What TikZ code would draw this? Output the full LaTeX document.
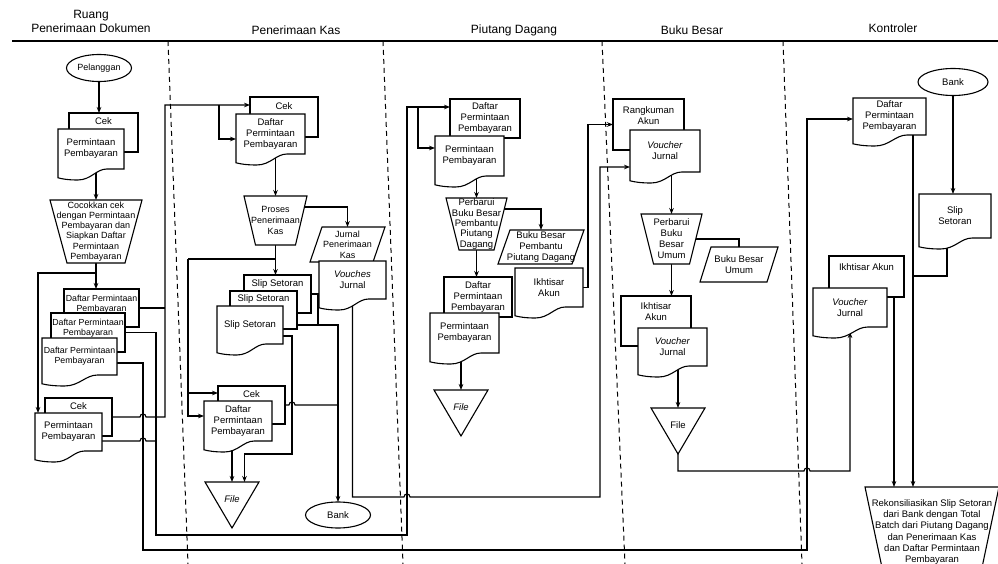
\documentclass[tikz,border=0pt]{standalone}
\usepackage{fontspec}
\setmainfont{Liberation Sans}
\usetikzlibrary{arrows.meta,shapes.geometric}
\pgfdeclarelayer{bg}
\pgfsetlayers{bg,main}

\makeatletter
\newdimen\shpL \newdimen\shpR \newdimen\shpT \newdimen\shpB \newdimen\shpW \newdimen\shpD
\def\shp@corners{%
  \southwest \global\shpL=\pgf@x \global\shpB=\pgf@y
  \northeast \global\shpR=\pgf@x \global\shpT=\pgf@y
  \global\shpW=\shpR \global\advance\shpW by -\shpL
}
\def\shp@rectanchors{%
  \inheritsavedanchors[from=rectangle]%
  \inheritanchorborder[from=rectangle]%
  \inheritanchor[from=rectangle]{center}%
  \inheritanchor[from=rectangle]{north}%
  \inheritanchor[from=rectangle]{south}%
  \inheritanchor[from=rectangle]{east}%
  \inheritanchor[from=rectangle]{west}%
  \inheritanchor[from=rectangle]{north east}%
  \inheritanchor[from=rectangle]{north west}%
  \inheritanchor[from=rectangle]{south east}%
  \inheritanchor[from=rectangle]{south west}%
}
\pgfkeys{/pgf/doc wave/.initial=11pt,
         /pgf/manop inset/.initial=12pt,
         /pgf/ledger slant/.initial=12pt,
         /pgf/tri drop/.initial=12pt}
% document symbol: the wavy lower edge hangs below the node box
\pgfdeclareshape{docwave}{%
  \shp@rectanchors
  \backgroundpath{%
    \shp@corners
    \pgfmathsetlength\shpD{\pgfkeysvalueof{/pgf/doc wave}}%
    \pgfpathmoveto{\pgfqpoint{\shpL}{\shpT}}%
    \pgfpathlineto{\pgfqpoint{\shpR}{\shpT}}%
    \pgfpathlineto{\pgfqpoint{\shpR}{\shpB}}%
    \pgfpathlineto{\pgfpoint{\shpL+0.74*\shpW}{\shpB}}%
    \pgfpathcurveto{\pgfpoint{\shpL+0.58*\shpW}{\shpB}}%
                   {\pgfpoint{\shpL+0.5*\shpW}{\shpB-\shpD}}%
                   {\pgfpoint{\shpL+0.3*\shpW}{\shpB-\shpD}}%
    \pgfpathcurveto{\pgfpoint{\shpL+0.15*\shpW}{\shpB-\shpD}}%
                   {\pgfpoint{\shpL+0.06*\shpW}{\shpB-0.9*\shpD}}%
                   {\pgfpoint{\shpL}{\shpB-0.8*\shpD}}%
    \pgfpathclose
  }%
}
% manual operation: trapezium, wide side on top
\pgfdeclareshape{manualop}{%
  \shp@rectanchors
  \backgroundpath{%
    \shp@corners
    \pgfmathsetlength\shpD{\pgfkeysvalueof{/pgf/manop inset}}%
    \pgfpathmoveto{\pgfqpoint{\shpL}{\shpT}}%
    \pgfpathlineto{\pgfqpoint{\shpR}{\shpT}}%
    \pgfpathlineto{\pgfpoint{\shpR-\shpD}{\shpB}}%
    \pgfpathlineto{\pgfpoint{\shpL+\shpD}{\shpB}}%
    \pgfpathclose
  }%
}
% ledger / journal: parallelogram
\pgfdeclareshape{ledger}{%
  \shp@rectanchors
  \backgroundpath{%
    \shp@corners
    \pgfmathsetlength\shpD{\pgfkeysvalueof{/pgf/ledger slant}}%
    \pgfpathmoveto{\pgfpoint{\shpL+\shpD}{\shpT}}%
    \pgfpathlineto{\pgfqpoint{\shpR}{\shpT}}%
    \pgfpathlineto{\pgfpoint{\shpR-\shpD}{\shpB}}%
    \pgfpathlineto{\pgfqpoint{\shpL}{\shpB}}%
    \pgfpathclose
  }%
}
% offline file: downward triangle, apex below the node box
\pgfdeclareshape{filetri}{%
  \shp@rectanchors
  \backgroundpath{%
    \shp@corners
    \pgfmathsetlength\shpD{\pgfkeysvalueof{/pgf/tri drop}}%
    \pgfpathmoveto{\pgfqpoint{\shpL}{\shpT}}%
    \pgfpathlineto{\pgfqpoint{\shpR}{\shpT}}%
    \pgfpathlineto{\pgfpoint{\shpL+0.5*\shpW}{\shpB-\shpD}}%
    \pgfpathclose
  }%
}
\makeatother

\tikzset{
  base/.style={draw, line width=1.1pt, fill=white, inner sep=0.5pt, outer sep=0pt,
               align=center, font=\fontsize{9.5}{11}\selectfont},
  boxn/.style={base, shape=rectangle, anchor=north west},
  docn/.style={base, shape=docwave, anchor=north west},
  procn/.style={base, shape=manualop, anchor=north west},
  ledgern/.style={base, shape=ledger, anchor=north west},
  filen/.style={base, shape=filetri, anchor=north west, minimum width=54pt, minimum height=34pt},
  termn/.style={base, shape=ellipse, inner sep=0pt},
  lbl/.style={inner sep=0pt, align=center, font=\fontsize{9.5}{11}\selectfont},
  lblsm/.style={inner sep=0pt, align=center, font=\fontsize{8.8}{10}\selectfont},
  toptext/.style 2 args={label={[lbl, anchor=north, yshift=#1]north:{#2}}},
  toptextsm/.style 2 args={label={[lblsm, anchor=north, yshift=#1]north:{#2}}},
  conn/.style={line width=1.1pt},
  arr/.style={conn, -{Stealth[length=6pt,width=4.6pt]}},
  lane/.style={line width=1pt, dash pattern=on 5pt off 4pt},
  head/.style={align=center, font=\fontsize{12}{14}\selectfont},
}

\begin{document}
\begin{tikzpicture}[x=1pt,y=-1pt]
\useasboundingbox (0,0) rectangle (998,564);
\clip (0,0) rectangle (998,564);

% ---------- lane headings ----------
\node[head] (hd1) at (91,21) {Ruang\\Penerimaan Dokumen};
\node[head] (hd2) at (296,30) {Penerimaan Kas};
\node[head] (hd3) at (514,30) {Piutang Dagang};
\node[head] (hd4) at (692,30) {Buku Besar};
\node[head] (hd5) at (893,28) {Kontroler};
\draw[line width=1.6pt] (12,41) -- (998,41);

% ---------- Ruang Penerimaan Dokumen ----------
\node[termn, minimum width=65pt, minimum height=27pt, font=\fontsize{9}{11}\selectfont] (pel) at (99,68) {Pelanggan};
\node[boxn, minimum width=69pt, minimum height=39pt, toptext={-4.4pt}{Cek}] (cek1) at (69,113) {};
\node[docn, minimum width=66pt, minimum height=40pt] (pp1) at (58,129) {Permintaan\\Pembayaran};
\node[procn, minimum width=92pt, minimum height=63pt, manop inset=17pt, font=\fontsize{9}{10.2}\selectfont] (t1) at (50,200)
  {Cocokkan cek\\dengan Permintaan\\Pembayaran dan\\Siapkan Daftar\\Permintaan\\Pembayaran};
\node[boxn, minimum width=75pt, minimum height=38pt, toptextsm={-5.8pt}{Daftar Permintaan\\Pembayaran}] (dpp1a) at (64,289) {};
\node[boxn, minimum width=74pt, minimum height=39pt, toptextsm={-5.8pt}{Daftar Permintaan\\Pembayaran}] (dpp1b) at (51,313) {};
\node[docn, minimum width=75pt, minimum height=37pt, font=\fontsize{8.8}{10}\selectfont] (dpp1c) at (42,338) {Daftar Permintaan\\Pembayaran};
\node[boxn, minimum width=67pt, minimum height=38pt, toptext={-4.4pt}{Cek}] (cek1b) at (45,398) {};
\node[docn, minimum width=67pt, minimum height=38pt] (pp1b) at (35,413) {Permintaan\\Pembayaran};

% ---------- Penerimaan Kas ----------
\node[boxn, minimum width=68pt, minimum height=40pt, toptext={-5.4pt}{Cek}] (cek2) at (250,97) {};
\node[docn, minimum width=69pt, minimum height=40pt] (dpp2) at (236,114) {Daftar\\Permintaan\\Pembayaran};
\node[procn, minimum width=63pt, minimum height=49pt, manop inset=11.5pt, font=\fontsize{9}{11}\selectfont] (t2) at (244,196) {Proses\\Penerimaan\\Kas};
\node[ledgern, minimum width=75pt, minimum height=35pt, ledger slant=12pt, font=\fontsize{9}{10.6}\selectfont] (p2) at (310,227) {Jurnal\\Penerimaan\\Kas};
\node[docn, minimum width=67pt, minimum height=38pt] (vch2) at (319,261) {\textit{Vouches}\\Jurnal};
\node[boxn, minimum width=67pt, minimum height=38pt, toptext={-4.4pt}{Slip Setoran}] (ss1) at (244,275) {};
\node[boxn, minimum width=67pt, minimum height=38pt, toptext={-3.4pt}{Slip Setoran}] (ss2) at (230,291) {};
\node[docn, minimum width=66pt, minimum height=38pt] (ss3) at (217,306) {Slip Setoran};
\node[boxn, minimum width=67pt, minimum height=38pt, toptext={-4.4pt}{Cek}] (cek2b) at (218,386) {};
\node[docn, minimum width=68pt, minimum height=40pt] (dpp2b) at (204,401) {Daftar\\Permintaan\\Pembayaran};
\node[filen, font=\fontsize{9.5}{11}\selectfont\itshape] (file2) at (205,482) {File};
\node[termn, minimum width=65pt, minimum height=26pt] (bank2) at (338,515) {Bank};

% ---------- Piutang Dagang ----------
\node[boxn, minimum width=70pt, minimum height=39pt] (dpp3) at (450,99) {Daftar\\Permintaan\\Pembayaran};
\node[docn, minimum width=69pt, minimum height=40pt] (pp3) at (435,136) {Permintaan\\Pembayaran};
\node[procn, minimum width=61pt, minimum height=52pt, manop inset=13pt, font=\fontsize{9.5}{10.4}\selectfont] (t3) at (446,198)
  {Perbarui\\Buku Besar\\Pembantu\\Piutang\\Dagang};
\node[ledgern, minimum width=86pt, minimum height=34pt, ledger slant=12pt, font=\fontsize{9.5}{10.6}\selectfont] (p3) at (498,230)
  {Buku Besar\\Pembantu\\Piutang Dagang};
\node[docn, minimum width=68pt, minimum height=39pt] (ikh3) at (515,268) {Ikhtisar\\Akun};
\node[boxn, minimum width=68pt, minimum height=40pt] (dpp3b) at (444,277) {Daftar\\Permintaan\\Pembayaran};
\node[docn, minimum width=69pt, minimum height=40pt] (pp3b) at (430,313) {Permintaan\\Pembayaran};
\node[filen, font=\fontsize{9.5}{11}\selectfont\itshape] (file3) at (434,390) {File};

% ---------- Buku Besar ----------
\node[boxn, minimum width=71pt, minimum height=51pt, toptext={-7.4pt}{Rangkuman\\Akun}] (rgk4) at (613,99) {};
\node[docn, minimum width=70pt, minimum height=42pt] (vch4) at (630,130) {\textit{Voucher}\\Jurnal};
\node[procn, minimum width=61pt, minimum height=50pt, manop inset=12.5pt] (t4) at (641,214) {Perbarui\\Buku\\Besar\\Umum};
\node[ledgern, minimum width=78pt, minimum height=35pt, ledger slant=11pt] (p4) at (700,247) {Buku Besar\\Umum};
\node[boxn, minimum width=70pt, minimum height=50pt, toptext={-6.4pt}{Ikhtisar\\Akun}] (ikh4) at (621,296) {};
\node[docn, minimum width=69pt, minimum height=38pt] (vch4b) at (638,328) {\textit{Voucher}\\Jurnal};
\node[filen] (file4) at (651,408) {File};

% ---------- Kontroler ----------
\node[termn, minimum width=70pt, minimum height=27pt] (bank5) at (953,82) {Bank};
\node[docn, minimum width=73pt, minimum height=37pt] (dpp5) at (853,98) {Daftar\\Permintaan\\Pembayaran};
\node[docn, minimum width=72pt, minimum height=44pt] (slip5) at (919,194) {Slip\\Setoran};
\node[boxn, minimum width=75pt, minimum height=41pt, toptext={-7.4pt}{Ikhtisar Akun}] (ikh5) at (829,256) {};
\node[docn, minimum width=74pt, minimum height=39pt] (vch5) at (813,288) {\textit{Voucher}\\Jurnal};
\node[procn, minimum width=134pt, minimum height=90pt, manop inset=19pt, font=\fontsize{9.5}{11.3}\selectfont] (t5) at (865,487)
  {Rekonsiliasikan Slip Setoran\\dari Bank dengan Total\\Batch dari Piutang Dagang\\dan Penerimaan Kas\\dan Daftar Permintaan\\Pembayaran};

\begin{pgfonlayer}{bg}
% swimlane separators
\draw[lane] (168,41) -- (188,564);
\draw[lane] (383,41) -- (403,564);
\draw[lane] (602,41) -- (625,564);
\draw[lane] (783,41) -- (802,564);

% document room
\draw[arr] (pel.south) -- (pel.south |- cek1.north);
\draw[arr] (pp1.south -| t1.north) -- (t1.north);
\coordinate (j1) at ([yshift=-10pt]t1.south);
\draw[arr] (t1.south) -- (t1.south |- dpp1a.north);
\draw[arr] (j1) -| ([xshift=3pt]pp1b.north west);

% cheques and list to cash receipts
\coordinate (v1) at (165,105);
\coordinate (v1b) at (219,105);
\draw[conn] (dpp1a.east) -- (dpp1a.east -| v1);
\draw[arr] (cek1b.east) -- (140,417) .. controls (140,413) and (146,413) .. (146,417)
  -- (cek1b.east -| v1) -- (v1) -- (v1 -| cek2.west);
\draw[arr] (v1b) |- ([yshift=-5pt]dpp2.west);

% list and remittance advice to accounts receivable
\coordinate (v2a) at (156,535);
\coordinate (v2b) at (407,535);
\coordinate (v2c) at (407,107);
\coordinate (v2d) at (418,107);
\draw[arr] (dpp1b.east) -| (v2a) -- (v2b) -- (v2c) -- (v2c -| dpp3.west);
\draw[conn] ([yshift=-9pt]pp1b.east) -- (140,441) .. controls (140,437) and (146,437) .. (146,441) -- (v2a |- 0,441);
\draw[arr] (v2d) |- ([yshift=8pt]pp3.west);

% list to controller
\coordinate (v3a) at (143,550);
\coordinate (v3b) at (807,550);
\draw[arr] ([yshift=-6.5pt]dpp1c.east) -| (v3a) -- (v3b) |- ([yshift=-2.5pt]dpp5.west);

% cash receipts
\draw[arr] (dpp2.south -| t2.north) -- (t2.north);
\draw[arr] ([yshift=13.5pt]t2.center) -| (p2.north);
\draw[arr] (t2.south) -- (t2.south |- ss1.north);
\coordinate (j2) at ([yshift=-14pt]t2.south);
\coordinate (l2) at (188,259);
\draw[conn] (j2) -- (l2);
\draw[arr] (l2) |- ([yshift=12pt]cek2b.west);
\draw[arr] (l2) |- ([yshift=5pt]dpp2b.west);
\coordinate (s1) at (318,325);
\draw[conn] (ss1.east) -| (s1);
\draw[arr] ([yshift=-15pt]ss2.east) -| (bank2.north);
\draw[conn] (cek2b.east) -- (289,405) .. controls (289,401) and (295,401) .. (295,405) -- (cek2b.east -| bank2.north);
\coordinate (s3) at (292,454);
\draw[arr] ([yshift=-11pt]ss3.east) -| (s3) -| ([xshift=12.5pt]file2.north);
\draw[arr] (file2.north |- dpp2b.south) -- (file2.north);

% journal voucher to general ledger
\draw[arr] (vch2.south) -- (vch2.south |- 0,497) -- (404,497) .. controls (404,493) and (410,493) .. (410,497)
  -- (600,497) -- (600,167) -- (vch4.west |- 0,167);

% accounts receivable
\draw[arr] (pp3.south -| t3.north) -- (t3.north);
\draw[arr] ([yshift=15pt]t3.center) -| (p3.north);
\draw[arr] (t3.south) -- (t3.south |- dpp3b.north);
\draw[arr] (file3.north |- pp3b.south) -- (file3.north);
\draw[arr] (ikh3.east) -| ([xshift=-25pt]rgk4.west) -- (rgk4.west);

% general ledger
\draw[arr] (vch4.south -| t4.north) -- (t4.north);
\draw[conn] (t4.center) -| (p4.north);
\draw[arr] (t4.south) -- (t4.south |- ikh4.north);
\draw[arr] (file4.north |- vch4b.south) -- (file4.north);
\draw[arr] (file4.center) -- (file4.center |- 0,471) -- (804,471) .. controls (804,467) and (810,467) .. (810,471)
  -- (vch5.south |- 0,471) -- ([yshift=-5pt]vch5.south);

% controller
\draw[arr] (bank5.south) -- (bank5.south |- slip5.north);
\coordinate (k1) at ([xshift=-19pt]t5.north);
\coordinate (k2) at ([xshift=-38pt]t5.north);
\draw[arr] (dpp5.south -| k1) -- (k1);
\draw[arr] (ikh5.south -| k2) -- (k2);
\draw[conn] ([xshift=-8pt]slip5.south) |- (k1 |- 0,276);
\end{pgfonlayer}
\end{tikzpicture}
\end{document}
